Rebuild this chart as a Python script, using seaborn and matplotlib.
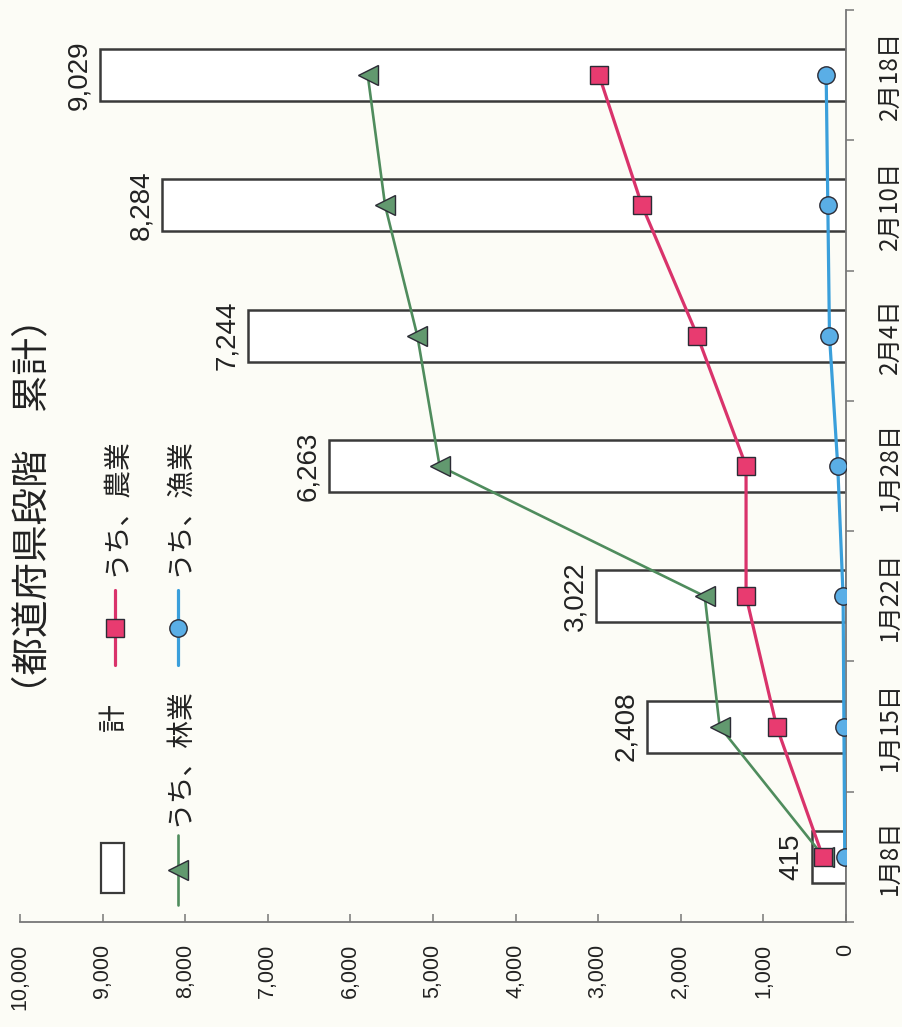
import numpy as np
import pandas as pd
import matplotlib
matplotlib.use('Agg')
import matplotlib.pyplot as plt
import seaborn as sns
from matplotlib import font_manager as fm
from matplotlib.lines import Line2D
from matplotlib.patches import Rectangle
from matplotlib.ticker import FixedLocator

# ---------------- data ----------------
dates = ['1月8日', '1月15日', '1月22日', '1月28日', '2月4日', '2月10日', '2月18日']
total = [415, 2408, 3022, 6263, 7244, 8284, 9029]
agri = [280, 840, 1210, 1210, 1800, 2470, 2990]      # うち、農業
forest = [270, 1530, 1710, 4920, 5190, 5580, 5790]   # うち、林業
fish = [15, 25, 35, 100, 200, 220, 240]              # うち、漁業
value_ticks = list(range(0, 10001, 1000))
title = '（都道府県段階　累計）'
legend_labels = ['計', 'うち、農業', 'うち、林業', 'うち、漁業']

# ---------------- style ----------------
sns.set_theme(style='white')
installed = {f.name for f in fm.fontManager.ttflist}
latin = 'Liberation Sans Narrow' if 'Liberation Sans Narrow' in installed else 'Liberation Sans'
plt.rcParams['font.family'] = ['Liberation Sans', 'Noto Sans CJK JP', 'DejaVu Sans']
CJK = ['Noto Sans CJK JP', 'DejaVu Sans']

BG = '#fcfcf6'
TXT = '#222222'
EDGE = '#2b2b35'
pink_line, pink_face = '#d9336b', '#e83b70'
green_line, green_face = '#4f8c5d', '#62996f'
blue_line, blue_face = '#3a9fdb', '#5aaee6'

W, H = 902, 1027
fig = plt.figure(figsize=(W / 100, H / 100), dpi=100, facecolor=BG)
ax = fig.add_axes([20 / W, 1 - 922 / H, (846 - 20) / W, (922 - 10) / H])
ax.set_facecolor(BG)

df = pd.DataFrame({'date': dates, 'total': total, 'agri': agri,
                   'forest': forest, 'fish': fish})

# bars (計)
sns.barplot(data=df, x='total', y='date', orient='h', color='white',
            saturation=1, edgecolor='#3a3a3a', linewidth=1.8, width=0.4,
            ax=ax, zorder=2)

# lines
sns.pointplot(data=df, x='forest', y='date', orient='h', color=green_line,
              markers='<', errorbar=None, ax=ax, linewidth=1.9,
              markersize=14, markerfacecolor=green_face,
              markeredgecolor=EDGE, markeredgewidth=1.0, zorder=3)
sns.pointplot(data=df, x='agri', y='date', orient='h', color=pink_line,
              markers='s', errorbar=None, ax=ax, linewidth=2.3,
              markersize=12.5, markerfacecolor=pink_face,
              markeredgecolor=EDGE, markeredgewidth=1.0, zorder=4)
sns.pointplot(data=df, x='fish', y='date', orient='h', color=blue_line,
              markers='o', errorbar=None, ax=ax, linewidth=2.3,
              markersize=12.5, markerfacecolor=blue_face,
              markeredgecolor=EDGE, markeredgewidth=1.0, zorder=5)

# bar value labels
for i, v in enumerate(total):
    ax.annotate(f'{v:,}', xy=(v, i), xytext=(-15, 0), textcoords='offset points',
                rotation=90, ha='center', va='center', fontsize=20,
                color=TXT, family=['Liberation Sans'])

# ---------------- axes ----------------
ax.set_xlim(10000, 0)
ax.set_ylim(-0.5, len(dates) - 0.5)
ax.set_xlabel('')
ax.set_ylabel('')
for s in ['top', 'left']:
    ax.spines[s].set_visible(False)
for s in ['right', 'bottom']:
    ax.spines[s].set_color('#777777')
    ax.spines[s].set_linewidth(1.3)

ax.set_xticks(value_ticks)
ax.set_xticklabels([f'{t:,}' for t in value_ticks], rotation=90,
                   family=[latin], fontsize=15.5, color=TXT)
ax.tick_params(axis='x', direction='in', length=6, width=1.1,
               color='#777777', pad=16, bottom=True)

ax.yaxis.set_ticks_position('right')
ax.set_yticks(range(len(dates)))
ax.set_yticklabels(dates, rotation=90, family=CJK, fontsize=17.5, color=TXT)
for lab in ax.get_yticklabels():
    lab.set_va('center')
    lab.set_ha('left')
ax.yaxis.set_minor_locator(FixedLocator(np.arange(-0.5, len(dates), 1.0)))
ax.tick_params(axis='y', which='major', length=0, pad=22,
               left=False, right=True, labelleft=False, labelright=True)
ax.tick_params(axis='y', which='minor', length=6, width=1.1, color='#777777',
               direction='out', left=False, right=True)
ax.grid(False)
ax.legend_ = None

# ---------------- title ----------------
def P(x, y):
    return x / W, 1 - y / H

fig.text(*P(33, 506), title, rotation=90, ha='center', va='center',
         fontsize=27, family=CJK, color=TXT)

# ---------------- legend (rotated, drawn manually) ----------------
x0, y0 = P(101, 893)
x1, y1 = P(124, 843)
fig.add_artist(Rectangle((x0, y0), x1 - x0, y1 - y0, transform=fig.transFigure,
                         facecolor='white', edgecolor='#3a3a3a', linewidth=1.6))
fig.text(*P(114, 717), legend_labels[0], rotation=90, ha='center', va='center',
         fontsize=20, family=CJK, color=TXT)

def legend_line(xp, ya, yb, lc, mk, fc, ms, lw):
    xa, a = P(xp, ya)
    _, b = P(xp, yb)
    fig.add_artist(Line2D([xa, xa], [a, b], color=lc, linewidth=lw,
                          transform=fig.transFigure))
    fig.add_artist(Line2D([xa], [(a + b) / 2], marker=mk, markersize=ms,
                          markerfacecolor=fc, markeredgecolor=EDGE,
                          markeredgewidth=1.0, linestyle='none',
                          transform=fig.transFigure))

legend_line(115, 590, 665, pink_line, 's', pink_face, 12.5, 2.3)
fig.text(*P(115, 507), legend_labels[1], rotation=90, ha='center', va='center',
         fontsize=20, family=CJK, color=TXT)
legend_line(178, 835, 905, green_line, '<', green_face, 14, 1.9)
fig.text(*P(178, 757), legend_labels[2], rotation=90, ha='center', va='center',
         fontsize=20, family=CJK, color=TXT)
legend_line(178, 590, 665, blue_line, 'o', blue_face, 12.5, 2.3)
fig.text(*P(178, 507), legend_labels[3], rotation=90, ha='center', va='center',
         fontsize=20, family=CJK, color=TXT)

fig.savefig('out.png', dpi=100, facecolor=BG)
